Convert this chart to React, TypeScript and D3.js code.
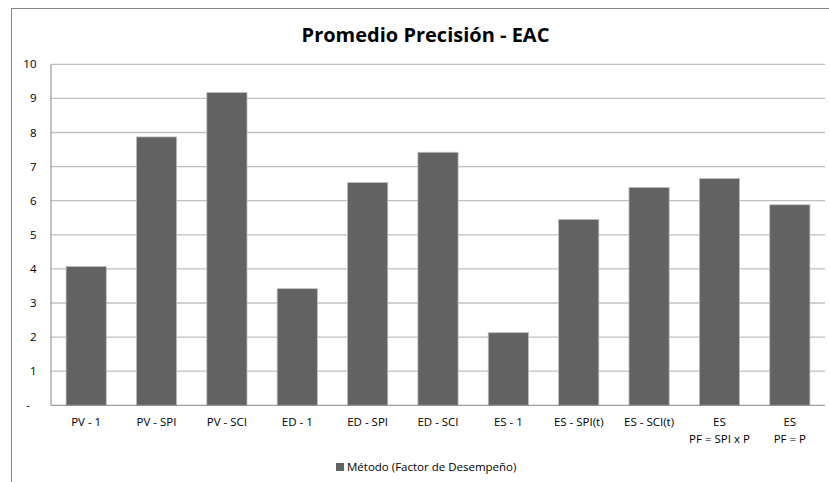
import React from "react";
import * as d3 from "d3";

const categories: string[][] = [
  ["PV - 1"],
  ["PV - SPI"],
  ["PV - SCI"],
  ["ED - 1"],
  ["ED - SPI"],
  ["ED - SCI"],
  ["ES - 1"],
  ["ES - SPI(t)"],
  ["ES - SCI(t)"],
  ["ES", "PF = SPI x P"],
  ["ES", "PF = P"],
];
const values: number[] = [4.07, 7.87, 9.17, 3.42, 6.53, 7.42, 2.13, 5.45, 6.39, 6.65, 5.88];
const yTicks: number[] = [0, 1, 2, 3, 4, 5, 6, 7, 8, 9, 10];
const title = "Promedio Precisión - EAC";
const seriesName = "Método (Factor de Desempeño)";

const W = 829;
const H = 482;
const plot = { left: 51, right: 825, top: 64.3, bottom: 405.3 };
const FONT = "'Open Sans', Lato, sans-serif";

export default function App() {
  const keys = categories.map((_, i) => String(i));
  const x = d3.scaleBand<string>().domain(keys).range([plot.left, plot.right]).paddingInner(0.4286).paddingOuter(0.2143);
  const y = d3.scaleLinear().domain([0, 10]).range([plot.bottom, plot.top]);

  return (
    <svg
      width={W}
      height={H}
      style={{ position: "absolute", left: 0, top: 0, background: "#fff" }}
      fontFamily={FONT}
    >
      {/* chart frame */}
      <rect x={11.5} y={8.5} width={W + 10} height={H + 10} fill="#fff" stroke="#868686" strokeWidth={1} />
      <text x={425.5} y={41.5} textAnchor="middle" fontSize={20} fontWeight="bold" fill="#000">
        {title}
      </text>

      {/* gridlines */}
      {yTicks.filter((t) => t > 0).map((t) => (
        <line key={t} x1={plot.left} x2={plot.right} y1={y(t)} y2={y(t)} stroke="#c0c0c0" strokeWidth={1.3} />
      ))}

      {/* bars */}
      {values.map((v, i) => (
        <rect
          key={i}
          x={x(keys[i])!}
          y={y(v)}
          width={x.bandwidth()}
          height={y(0) - y(v)}
          fill="#626262"
          stroke="#bdbdbd"
          strokeWidth={0.8}
        />
      ))}

      {/* axes */}
      <line x1={plot.left} x2={plot.left} y1={plot.top} y2={plot.bottom} stroke="#868686" strokeWidth={1} />
      <line x1={plot.left} x2={plot.right} y1={plot.bottom} y2={plot.bottom} stroke="#868686" strokeWidth={1} />

      {yTicks.map((t) => (
        <text key={t} x={t === 0 ? 30 : 36.5} y={y(t)} dy="0.35em" textAnchor="end" fontSize={11.5} fill="#000">
          {t === 0 ? "-" : String(t)}
        </text>
      ))}

      {categories.map((lines, i) => (
        <text key={i} x={x(keys[i])! + x.bandwidth() / 2} textAnchor="middle" fontSize={11.5} fill="#000">
          {lines.map((l, j) => (
            <tspan key={j} x={x(keys[i])! + x.bandwidth() / 2} y={426 + j * 17}>
              {l}
            </tspan>
          ))}
        </text>
      ))}

      {/* legend */}
      <rect x={336} y={463} width={8} height={8} fill="#626262" />
      <text x={347} y={467} dy="0.35em" fontSize={11.5} fill="#000">
        {seriesName}
      </text>
    </svg>
  );
}
